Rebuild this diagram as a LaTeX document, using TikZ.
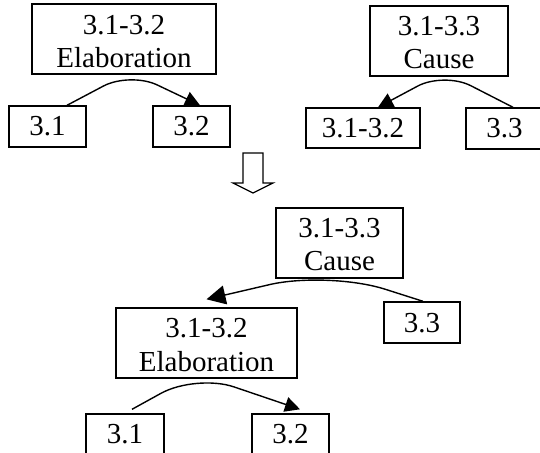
\documentclass[tikz,border=0pt]{standalone}
\usepackage{fontspec}
\setmainfont{Liberation Serif}
\usetikzlibrary{arrows.meta}
\tikzset{
  box/.style={draw, line width=1.4pt, inner sep=0pt},
  lbl/.style={anchor=base, inner sep=0pt, font=\fontsize{29}{33}\selectfont},
  link/.style={line width=1.4pt, rounded corners=30pt},
  tip/.style={-{Triangle[length=15pt,width=15pt]}},
  bigtip/.style={-{Triangle[length=19pt,width=19pt]}},
}
\begin{document}
\begin{tikzpicture}[x=1pt,y=-1pt]
\useasboundingbox (0,0) rectangle (540,452);
\clip (0,0) rectangle (540,452);
% ---------- top-left tree
\node[box, minimum width=184pt, minimum height=70pt] (A) at (124,39) {};
\node[lbl] (Aa) at (124,35) {3.1-3.2};
\node[lbl] (Ab) at (124,67) {Elaboration};
\node[box, minimum width=77pt, minimum height=41pt] (A1) at (47.5,126.5) {};
\node[lbl] (A1t) at (47.5,135.5) {3.1};
\node[box, minimum width=77pt, minimum height=41pt] (A2) at (191.5,126.5) {};
\node[lbl] (A2t) at (191.5,135.5) {3.2};
\draw[link,tip] ([xshift=19.5pt]A1.north) -- (130,72) -- ([xshift=8.5pt]A2.north);
% ---------- top-right tree
\node[box, minimum width=138pt, minimum height=70pt] (B) at (439,41) {};
\node[lbl] (Ba) at (439,35.5) {3.1-3.3};
\node[lbl] (Bb) at (439,68) {Cause};
\node[box, minimum width=114pt, minimum height=40pt] (B1) at (363,128) {};
\node[lbl] (B1t) at (363,137) {3.1-3.2};
\node[box, minimum width=77pt, minimum height=41pt] (B2) at (504.5,128.5) {};
\node[lbl] (B2t) at (504.5,137) {3.3};
\draw[link,tip] ([xshift=8.5pt]B2.north) -- (444,72) -- ([xshift=15pt]B1.north);
% ---------- hollow down arrow
\draw[line width=1.2pt, fill=white] (243,153) -- (263,153) -- (263,183) -- (273,183) -- (253,193) -- (233,183) -- (243,183) -- cycle;
% ---------- bottom tree
\node[box, minimum width=127pt, minimum height=70pt] (C) at (339.5,243) {};
\node[lbl] (Ca) at (339.5,237.5) {3.1-3.3};
\node[lbl] (Cb) at (339.5,270.5) {Cause};
\node[box, minimum width=76pt, minimum height=41pt] (C2) at (422,322.5) {};
\node[lbl] (C2t) at (422,332) {3.3};
\node[box, minimum width=181pt, minimum height=70pt] (D) at (206.5,343) {};
\node[lbl] (Da) at (206.5,337.5) {3.1-3.2};
\node[lbl] (Db) at (206.5,371) {Elaboration};
\node[box, minimum width=78pt, minimum height=41pt] (D1) at (125,434.5) {};
\node[lbl] (D1t) at (125,443.5) {3.1};
\node[box, minimum width=77pt, minimum height=41pt] (D2) at (290.5,434.5) {};
\node[lbl] (D2t) at (290.5,443.5) {3.2};
\draw[link,bigtip,rounded corners=60pt] ([xshift=1pt]C2.north) -- (328,271) -- ([yshift=8pt]D.north);
\draw[link,tip,rounded corners=40pt] ([xshift=7pt,yshift=4pt]D1.north) -- (196,374) -- ([xshift=9.5pt,yshift=4pt]D2.north);
\end{tikzpicture}
\end{document}
